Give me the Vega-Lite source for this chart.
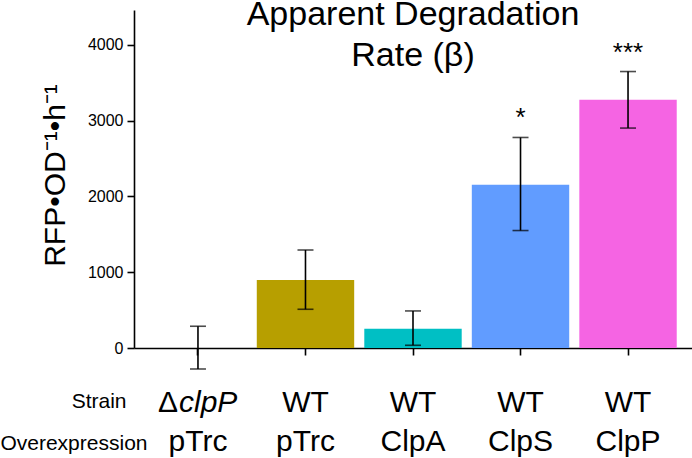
{
  "$schema": "https://vega.github.io/schema/vega-lite/v6.json",
  "width": 558,
  "height": 338,
  "autosize": {"type": "none"},
  "padding": {"left": 134, "top": 10, "right": 0, "bottom": 110},
  "background": "white",
  "config": {"view": {"stroke": null}, "font": "Liberation Sans"},
  "title": {
    "text": ["Apparent Degradation", "Rate (β)"],
    "fontSize": 34,
    "fontWeight": "normal",
    "font": "Liberation Sans",
    "color": "black",
    "anchor": "middle",
    "baseline": "top",
    "offset": -63,
    "lineHeight": 41
  },
  "data": {
    "values": [
      {"grp": "ΔclpP|pTrc", "rate": 0, "lo": -277, "hi": 287, "sig": ""},
      {"grp": "WT|pTrc", "rate": 898, "lo": 511, "hi": 1293, "sig": ""},
      {"grp": "WT|ClpA", "rate": 255, "lo": 36, "hi": 489, "sig": ""},
      {"grp": "WT|ClpS", "rate": 2155, "lo": 1550, "hi": 2778, "sig": "*"},
      {"grp": "WT|ClpP", "rate": 3275, "lo": 2902, "hi": 3648, "sig": "***"}
    ]
  },
  "layer": [
    {
      "mark": {"type": "bar"},
      "encoding": {
        "x": {
          "field": "grp", "type": "nominal", "sort": null,
          "scale": {"paddingInner": 0.094, "paddingOuter": 0.142},
          "axis": {
            "title": "Strain",
            "orient": "bottom",
            "labelExpr": "indexof(datum.value,'Δ')==0 ? '' : split(datum.value,'|')[0]",
            "labelAngle": 0,
            "labelFontSize": 30,
            "labelColor": "black",
            "labelBaseline": "alphabetic",
            "labelPadding": 56,
            "labelOverlap": false,
            "tickSize": 7,
            "tickColor": "black",
            "tickWidth": 1.6,
            "domainColor": "black",
            "domainWidth": 1.6,
            "titleFontSize": 21,
            "titleFontWeight": "normal",
            "titleColor": "black",
            "titleAlign": "right",
            "titleBaseline": "alphabetic",
            "titleX": -8,
            "titleY": 59
          }
        },
        "y": {
          "field": "rate", "type": "quantitative",
          "scale": {"domain": [0, 4460], "nice": false, "zero": false},
          "axis": {
            "title": "RFP•OD⁻¹•h⁻¹",
            "values": [0, 1000, 2000, 3000, 4000],
            "format": "d",
            "grid": false,
            "labelFontSize": 16,
            "labelColor": "black",
            "labelPadding": 4,
            "tickSize": 7,
            "tickColor": "black",
            "tickWidth": 1.6,
            "domainColor": "black",
            "domainWidth": 1.6,
            "titleFontSize": 30,
            "titleFontWeight": "normal",
            "titleColor": "black",
            "titlePadding": 17,
            "titleY": 165
          }
        },
        "color": {
          "field": "grp", "type": "nominal",
          "scale": {
            "domain": ["ΔclpP|pTrc", "WT|pTrc", "WT|ClpA", "WT|ClpS", "WT|ClpP"],
            "range": ["#F8766D", "#B79F00", "#00BFC4", "#619CFF", "#F564E3"]
          },
          "legend": null
        }
      }
    },
    {
      "mark": {"type": "rule", "strokeWidth": 1.6, "color": "black"},
      "encoding": {
        "x": {
          "field": "grp", "type": "nominal", "sort": null,
          "axis": {
            "title": "Overexpression",
            "orient": "bottom",
            "labelExpr": "split(datum.value,'|')[1]",
            "labelAngle": 0,
            "labelFontSize": 30,
            "labelColor": "black",
            "labelBaseline": "alphabetic",
            "labelPadding": 102,
            "labelOverlap": false,
            "ticks": false,
            "tickSize": 0,
            "domain": false,
            "titleFontSize": 21,
            "titleFontWeight": "normal",
            "titleColor": "black",
            "titleAlign": "right",
            "titleBaseline": "alphabetic",
            "titleX": 13,
            "titleY": 101
          }
        },
        "y": {"field": "lo", "type": "quantitative"},
        "y2": {"field": "hi"}
      }
    },
    {
      "mark": {"type": "tick", "orient": "horizontal", "size": 16, "thickness": 1.6, "color": "black"},
      "encoding": {
        "x": {
          "field": "grp", "type": "nominal", "sort": null,
          "axis": {
            "title": null,
            "orient": "bottom",
            "labelExpr": "indexof(datum.value,'Δ')==0 ? 'Δ' : ''",
            "labelAngle": 0,
            "labelFontSize": 30,
            "labelColor": "black",
            "labelBaseline": "alphabetic",
            "labelAlign": "right",
            "labelOffset": -20,
            "labelPadding": 63,
            "labelOverlap": false,
            "ticks": false,
            "tickSize": 0,
            "domain": false
          }
        },
        "y": {"field": "lo", "type": "quantitative"}
      }
    },
    {
      "mark": {"type": "tick", "orient": "horizontal", "size": 16, "thickness": 1.6, "color": "black"},
      "encoding": {
        "x": {
          "field": "grp", "type": "nominal", "sort": null,
          "axis": {
            "title": null,
            "orient": "bottom",
            "labelExpr": "indexof(datum.value,'Δ')==0 ? 'clpP' : ''",
            "labelAngle": 0,
            "labelFontSize": 30,
            "labelFontStyle": "italic",
            "labelColor": "black",
            "labelBaseline": "alphabetic",
            "labelAlign": "left",
            "labelOffset": -19,
            "labelPadding": 63,
            "labelOverlap": false,
            "ticks": false,
            "tickSize": 0,
            "domain": false
          }
        },
        "y": {"field": "hi", "type": "quantitative"}
      }
    },
    {
      "mark": {"type": "text", "fontSize": 26, "dy": -11, "baseline": "alphabetic", "color": "black"},
      "encoding": {
        "x": {"field": "grp", "type": "nominal", "sort": null, "axis": null},
        "y": {"field": "hi", "type": "quantitative"},
        "text": {"field": "sig"}
      }
    }
  ],
  "resolve": {"axis": {"x": "independent"}}
}
